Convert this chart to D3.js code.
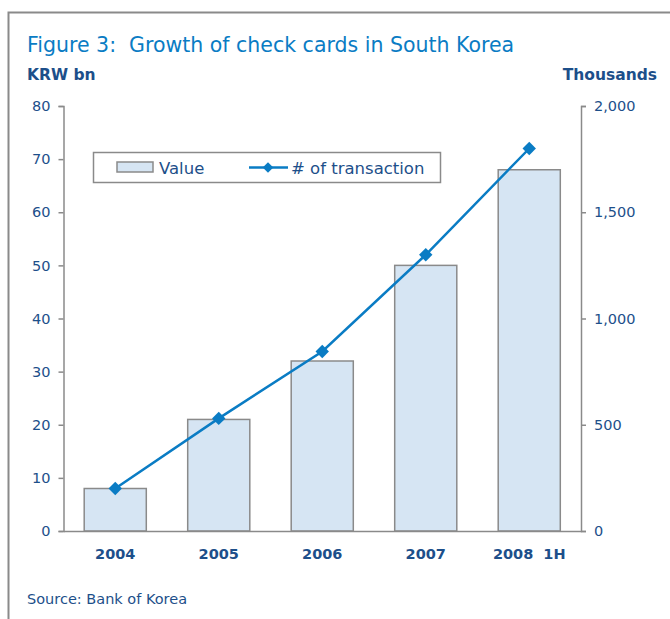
<!DOCTYPE html>
<html>
<head>
<meta charset="utf-8">
<script src="https://cdn.jsdelivr.net/npm/d3@7"></script>
<style>
  body { margin: 0; background: #fff; }
  svg { font-family: "DejaVu Sans", Verdana, sans-serif; }
</style>
</head>
<body>
<svg id="chart" width="670" height="619"></svg>
<script>
const categories = ["2004", "2005", "2006", "2007", "2008  1H"];
const values = [8, 21, 32, 50, 68];              // KRW bn
const transactions = [200, 530, 845, 1300, 1800]; // thousands
const leftTicks = [0, 10, 20, 30, 40, 50, 60, 70, 80];
const rightTicks = [0, 500, 1000, 1500, 2000];

const svg = d3.select("#chart");
const navy = "#1d4f8a", blue = "#0a7cc4", gray = "#8a8a8a";
const font = "DejaVu Sans, Verdana, sans-serif";

// frame
svg.append("path")
  .attr("d", "M8.5,619 V12.5 H670")
  .attr("fill", "none").attr("stroke", gray).attr("stroke-width", 2);

svg.append("text").attr("x", 27).attr("y", 52)
  .attr("fill", blue).attr("font-size", 20.5)
  .style("white-space", "pre")
  .text("Figure 3:  Growth of check cards in South Korea");
svg.append("text").attr("x", 27).attr("y", 80)
  .attr("fill", navy).attr("font-size", 15.5).attr("font-weight", "bold")
  .text("KRW bn");
svg.append("text").attr("x", 657).attr("y", 80).attr("text-anchor", "end")
  .attr("fill", navy).attr("font-size", 15.5).attr("font-weight", "bold")
  .text("Thousands");
svg.append("text").attr("x", 27).attr("y", 604)
  .attr("fill", navy).attr("font-size", 14.5)
  .text("Source: Bank of Korea");

const x0 = 63.5, x1 = 581, yTop = 106, yBot = 531;
const x = d3.scaleBand().domain(categories).range([x0, x1]).paddingInner(0.4).paddingOuter(0.2);
const yL = d3.scaleLinear().domain([0, 80]).range([yBot, yTop]);
const yR = d3.scaleLinear().domain([0, 2000]).range([yBot, yTop]);

// bars
svg.append("g").selectAll("rect").data(values).join("rect")
  .attr("x", (d, i) => x(categories[i]))
  .attr("y", d => yL(d))
  .attr("width", x.bandwidth())
  .attr("height", d => yBot - yL(d))
  .attr("fill", "#d6e5f3").attr("stroke", gray).attr("stroke-width", 1.5);

// axes
const left = svg.append("g").attr("transform", `translate(${x0},0)`)
  .call(d3.axisLeft(yL).tickValues(leftTicks).tickSize(5).tickPadding(8));
const right = svg.append("g").attr("transform", `translate(${x1},0)`)
  .call(d3.axisRight(yR).tickValues(rightTicks).tickSize(5).tickPadding(8).tickFormat(d3.format(",")));
[left, right].forEach(g => {
  g.select(".domain").attr("stroke", gray).attr("stroke-width", 1.5);
  g.selectAll(".tick line").attr("stroke", gray).attr("stroke-width", 1.5);
  g.selectAll(".tick text").attr("fill", navy).attr("font-size", 14.5)
    .attr("font-family", font);
});
svg.append("g").attr("transform", `translate(0,${yBot})`)
  .call(d3.axisBottom(x).tickSize(0).tickPadding(18))
  .call(g => g.select(".domain").attr("stroke", gray).attr("stroke-width", 1.5))
  .call(g => g.selectAll(".tick text").attr("fill", navy).attr("font-size", 14.5)
    .attr("font-weight", "bold").attr("font-family", font)
    .style("white-space", "pre"));

// line
const cx = (d, i) => x(categories[i]) + x.bandwidth() / 2;
svg.append("path").datum(transactions)
  .attr("d", d3.line().x(cx).y(d => yR(d)))
  .attr("fill", "none").attr("stroke", blue).attr("stroke-width", 2.5);
const diamond = d3.symbol().type(d3.symbolSquare).size(90);
svg.append("g").selectAll("path").data(transactions).join("path")
  .attr("transform", (d, i) => `translate(${cx(d, i)},${yR(d)}) rotate(45)`)
  .attr("d", diamond).attr("fill", blue);

// legend
const lg = svg.append("g");
lg.append("rect").attr("x", 93.5).attr("y", 152.5).attr("width", 347).attr("height", 30)
  .attr("fill", "#fff").attr("stroke", gray).attr("stroke-width", 1.5);
lg.append("rect").attr("x", 117).attr("y", 162).attr("width", 36).attr("height", 10)
  .attr("fill", "#d6e5f3").attr("stroke", gray).attr("stroke-width", 1.5);
lg.append("text").attr("x", 159).attr("y", 173.5).attr("fill", navy).attr("font-size", 16.5).text("Value");
lg.append("line").attr("x1", 249).attr("x2", 288).attr("y1", 167.5).attr("y2", 167.5)
  .attr("stroke", blue).attr("stroke-width", 2.5);
lg.append("path").attr("transform", "translate(268,167.5) rotate(45)")
  .attr("d", d3.symbol().type(d3.symbolSquare).size(55)).attr("fill", blue);
lg.append("text").attr("x", 291).attr("y", 173.5).attr("fill", navy).attr("font-size", 16.5).text("# of transaction");
</script>
</body>
</html>
